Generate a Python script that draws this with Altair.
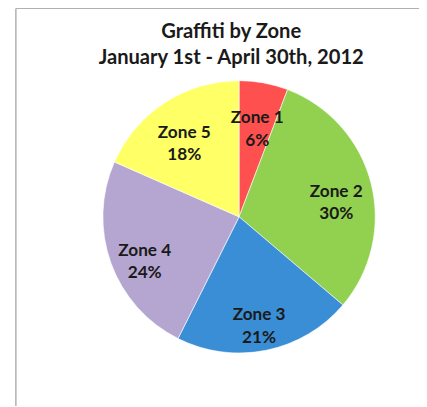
import altair as alt
import pandas as pd

zones = ["Zone 1", "Zone 2", "Zone 3", "Zone 4", "Zone 5"]
shares = [5.8, 30.4, 21.2, 24.2, 18.4]
colors = ["#FF5050", "#92D050", "#3A8ED6", "#B4A6D0", "#FFFF66"]
title_lines = ["Graffiti by Zone", "January 1st - April 30th, 2012"]

df = pd.DataFrame({
    "zone": zones,
    "value": shares,
    "order": list(range(len(zones))),
    "label": [f"{z}\n{round(v)}%" for z, v in zip(zones, shares)],
})

base = alt.Chart(df).encode(
    theta=alt.Theta("value:Q", stack=True),
    order=alt.Order("order:Q"),
)

pie = base.mark_arc(outerRadius=138.5, stroke="white", strokeWidth=0.6).encode(
    color=alt.Color("zone:N", scale=alt.Scale(domain=zones, range=colors), legend=None)
)

labels = base.mark_text(
    radius=102, font="Lato", fontWeight="bold", fontSize=17.5,
    color="#1a1a1a", lineBreak="\n", lineHeight=23, baseline="middle", align="center"
).encode(text="label:N")

tdf = pd.DataFrame({"t": title_lines, "i": [0, 1]})
title1 = alt.Chart(tdf.iloc[[0]]).mark_text(
    font="Lato", fontWeight="bold", fontSize=20.5, color="#1a1a1a", baseline="middle"
).encode(text="t:N", x=alt.value(142), y=alt.value(-38))
title2 = alt.Chart(tdf.iloc[[1]]).mark_text(
    font="Lato", fontWeight="bold", fontSize=20.5, color="#1a1a1a", baseline="middle"
).encode(text="t:N", x=alt.value(142), y=alt.value(-11))

border_top = alt.Chart(tdf.iloc[[0]]).mark_rule(color="#b0b0b0", strokeWidth=1.5).encode(
    x=alt.value(-77), x2=alt.value(340), y=alt.value(-62)
)
border_left = alt.Chart(tdf.iloc[[0]]).mark_rule(color="#b0b0b0", strokeWidth=1.5).encode(
    x=alt.value(-77), y=alt.value(-62), y2=alt.value(345)
)

chart = alt.layer(border_top, border_left, pie, labels, title1, title2).properties(
    width=300, height=300,
    background="white",
    autosize=alt.AutoSizeParams(type="none"),
    padding={"left": 85, "top": 59, "right": 33, "bottom": 39},
).configure_view(strokeWidth=0, stroke="transparent")

chart.save("out.html", embed_options={"renderer": "svg", "actions": False})
